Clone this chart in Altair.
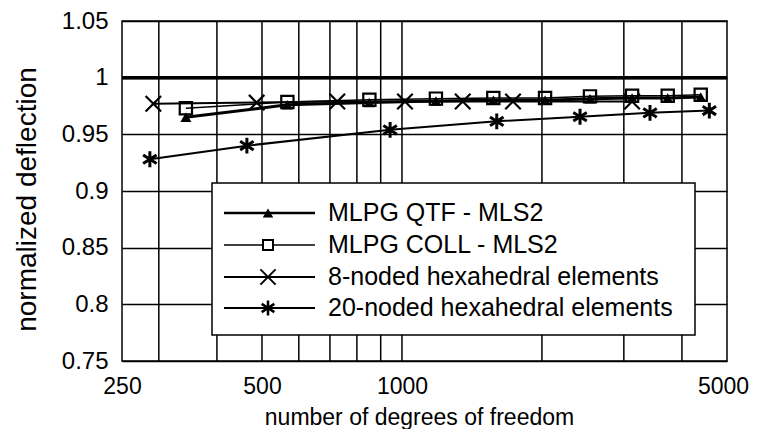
import altair as alt
import pandas as pd

# ---------------- data ----------------
qtf_x = [343, 567, 851, 1183, 1572, 2031, 2537, 3125, 3728, 4390]
qtf_y = [0.965, 0.976, 0.978, 0.9795, 0.980, 0.980, 0.9815, 0.982, 0.982, 0.983]

coll_x = [343, 567, 851, 1183, 1572, 2031, 2537, 3125, 3728, 4390]
coll_y = [0.973, 0.9785, 0.9805, 0.9815, 0.982, 0.982, 0.9835, 0.984, 0.984, 0.985]

hex8_x = [292, 487, 726, 1015, 1351, 1733, 3125]
hex8_y = [0.977, 0.978, 0.979, 0.979, 0.979, 0.979, 0.979]

hex20_x = [287, 464, 943, 1599, 2415, 3415, 4581]
hex20_y = [0.928, 0.940, 0.954, 0.9615, 0.9655, 0.969, 0.971]

series_names = [
    "MLPG QTF - MLS2",
    "MLPG COLL - MLS2",
    "8-noded hexahedral elements",
    "20-noded hexahedral elements",
]

x_labels = [250, 500, 1000, 5000]
x_grid = [300, 400, 500, 600, 700, 800, 900, 1000, 2000, 3000, 4000]
y_ticks = [0.75, 0.8, 0.85, 0.9, 0.95, 1.0, 1.05]
ref_value = [1.0]

# ---------------- styling ----------------
FONT = "Liberation Sans"
W, H = 605, 340
X_PATH = "M-1,-1L1,1M-1,1L1,-1"
AST_PATH = "M0,-1L0,1M-0.85,-0.55L0.85,0.55M-0.85,0.55L0.85,-0.55"

xscale = alt.Scale(type="log", domain=[250, 5000], nice=False)
yscale = alt.Scale(domain=[0.75, 1.05], nice=False, zero=False)

x_axis = alt.Axis(
    values=x_labels, format="d", grid=False, ticks=False, domain=False,
    labelFont=FONT, labelFontSize=23, labelColor="black", labelPadding=14,
    labelFlush=False, labelOverlap=False,
    labelOffset={"condition": {"test": "datum.value == 5000", "value": -4}, "value": 0},
    title="number of degrees of freedom", titleFont=FONT, titleFontSize=23,
    titleFontWeight="normal", titleColor="black",
    titleX=297, titleY=63, titleBaseline="alphabetic",
)
y_axis = alt.Axis(
    values=y_ticks, labelExpr="format(datum.value, '.2~f')",
    grid=True, gridColor="black", gridWidth=1.5, gridOpacity=1,
    ticks=False, domain=False,
    labelFont=FONT, labelFontSize=24, labelColor="black", labelPadding=14,
    labelFlush=False, labelOverlap=False,
    title="normalized deflection", titleFont=FONT, titleFontSize=28,
    titleFontWeight="normal", titleColor="black",
    titleX=-87, titleY=178, titleBaseline="alphabetic",
)

X = alt.X("dof:Q", scale=xscale, axis=x_axis)
Y = alt.Y("defl:Q", scale=yscale, axis=y_axis)


def df(xs, ys):
    return pd.DataFrame({"dof": xs, "defl": ys})


grid_v = alt.Chart(pd.DataFrame({"dof": x_grid})).mark_rule(
    color="black", strokeWidth=1.5
).encode(x=X)

ref_line = alt.Chart(pd.DataFrame({"defl": ref_value})).mark_rule(
    color="black", strokeWidth=3.5
).encode(y=Y)


def series(xs, ys, line_w, shape, filled, size, sw):
    base = alt.Chart(df(xs, ys)).encode(x=X, y=Y)
    line = base.mark_line(color="black", strokeWidth=line_w)
    pts = base.mark_point(
        shape=shape, filled=filled, size=size, color="black",
        strokeWidth=sw, opacity=1,
    )
    return line, pts


l20, p20 = series(hex20_x, hex20_y, 2, AST_PATH, False, 250, 3)
l8, p8 = series(hex8_x, hex8_y, 2, X_PATH, False, 240, 2.2)
lc, pc = series(coll_x, coll_y, 1.5, "square", False, 150, 2.2)
lq, pq = series(qtf_x, qtf_y, 3, "triangle-up", True, 120, 1)

data_group = alt.layer(grid_v, ref_line, l20, l8, lc, lq, p20, p8, pq, pc)

# ---------------- legend (drawn manually) ----------------
LEG_BOX = (90, 573, 162, 314)
LEG_ROWS = [192, 224, 256, 287]
LEG_LINE = (102, 193)
LEG_SYM = 146
LEG_TEXT = 206

box = alt.Chart(pd.DataFrame({"a": [0]})).mark_rect(
    fill="white", stroke="black", strokeWidth=1.5
).encode(
    x=alt.value(LEG_BOX[0]), x2=alt.value(LEG_BOX[1]),
    y=alt.value(LEG_BOX[2]), y2=alt.value(LEG_BOX[3]),
)

legend_specs = [
    (series_names[0], 2.5, "triangle-up", True, 110, 1),
    (series_names[1], 1.5, "square", False, 100, 2),
    (series_names[2], 2, X_PATH, False, 230, 2),
    (series_names[3], 2, AST_PATH, False, 220, 2.5),
]

legend_layers = [box]
for (name, lw, shape, filled, size, sw), ly in zip(legend_specs, LEG_ROWS):
    d = pd.DataFrame({"name": [name], "ly": [ly]})
    yenc = alt.Y("ly:Q", scale=None, axis=None)
    b = alt.Chart(d)
    legend_layers.append(
        b.mark_rule(color="black", strokeWidth=lw).encode(
            x=alt.value(LEG_LINE[0]), x2=alt.value(LEG_LINE[1]), y=yenc
        )
    )
    legend_layers.append(
        b.mark_point(shape=shape, filled=filled, size=size, color="black",
                     strokeWidth=sw, opacity=1,
                     fill="white" if not filled else "black").encode(
            x=alt.value(LEG_SYM), y=yenc
        )
    )
    legend_layers.append(
        b.mark_text(align="left", baseline="middle", font=FONT, fontSize=25,
                    color="black").encode(
            x=alt.value(LEG_TEXT), y=yenc, text="name:N"
        )
    )

legend_group = alt.layer(*legend_layers)

chart = alt.layer(data_group, legend_group).resolve_scale(
    x="independent", y="independent"
).properties(
    width=W, height=H,
    padding={"left": 114, "top": 13, "right": 23, "bottom": 68},
    autosize="none",
    background="white",
).configure_view(stroke="black", strokeWidth=1.5)

chart.save("out.html", embed_options={"renderer": "svg", "actions": False})
